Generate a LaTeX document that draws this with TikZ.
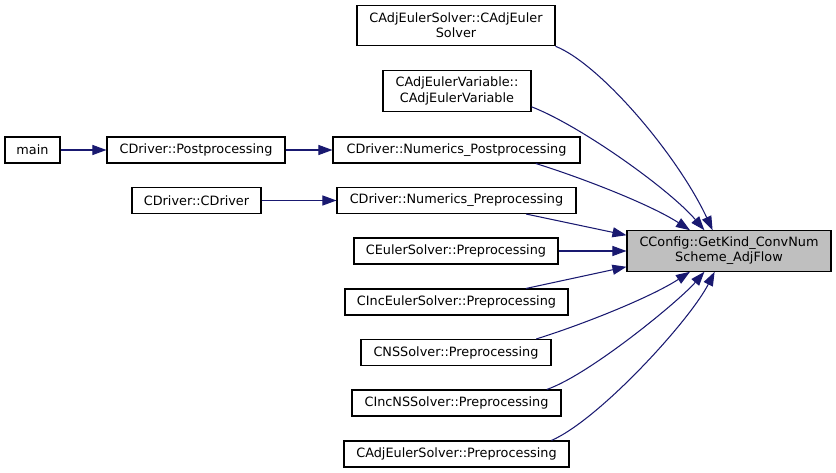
\documentclass[tikz,border=0pt]{standalone}
\usepackage{fontspec}
\setmainfont{DejaVu Sans}
\usetikzlibrary{arrows.meta,calc}
\definecolor{cgEdge}{RGB}{25,25,112}
\definecolor{cgHit}{RGB}{191,191,191}
\newcommand{\HS}{0.52cm}
\newcommand{\HD}{0.81cm}

\begin{document}
\begin{tikzpicture}[
    x=0.02cm, y=-0.02cm,
    fn/.style={draw=black, line width=0.6pt, inner sep=1pt, align=center,
      font=\fontsize{7.3}{8.6}\selectfont, minimum height=\HS},
    hit/.style={fn, fill=cgHit, minimum height=\HD},
    call/.style={draw=cgEdge, line width=0.6pt,
      -{Triangle[length=8pt, width=5.7pt]}},
  ]
  \useasboundingbox (0,0) rectangle (836,473);

  %% ================= callers, left to right =================
  \node[fn, minimum width=1.10cm] (main)     at (32.5,150)  {main};
  \node[fn, minimum width=3.56cm] (post)     at (196,150)   {CDriver::Postprocessing};
  \node[fn, minimum width=2.58cm] (cdriver)  at (196.5,200.5) {CDriver::CDriver};

  %% ---- the column of direct callers ----
  \node[fn, minimum width=3.96cm, minimum height=\HD] (adjsol) at (456,25.5)
    {CAdjEulerSolver::CAdjEuler\\Solver};
  \node[fn, minimum width=2.96cm, minimum height=\HD] (adjvar) at (457,91)
    {CAdjEulerVariable::\\CAdjEulerVariable};
  \node[fn, minimum width=4.94cm] (numpost)  at (456.5,150) {CDriver::Numerics\_Postprocessing};
  \node[fn, minimum width=4.78cm] (numpre)   at (456.5,200.5) {CDriver::Numerics\_Preprocessing};
  \node[fn, minimum width=4.08cm] (euler)    at (456,251)   {CEulerSolver::Preprocessing};
  \node[fn, minimum width=4.46cm] (inceuler) at (456.5,302) {CIncEulerSolver::Preprocessing};
  \node[fn, minimum width=3.80cm] (ns)       at (456,352.5) {CNSSolver::Preprocessing};
  \node[fn, minimum width=4.18cm] (incns)    at (456.5,403) {CIncNSSolver::Preprocessing};
  \node[fn, minimum width=4.50cm] (adjpre)   at (456.5,454) {CAdjEulerSolver::Preprocessing};

  %% ---- the function itself ----
  \node[hit, minimum width=4.08cm] (cfg) at (729,251)
    {CConfig::GetKind\_ConvNum\\Scheme\_AdjFlow};

  %% ================= calls =================
  \draw[call] (main.east) -- (post.west);
  \draw[call] (post.east) -- (numpost.west);
  \draw[call] (cdriver.east) -- (numpre.west);

  \draw[call] (adjsol.south east) .. controls +(45,18) and +(-35,-75)
    .. ($(cfg.north west)!0.42!(cfg.north east)$);
  \draw[call] ($(adjvar.south east)+(0,-5)$) .. controls +(49,19) and +(-35,-41)
    .. ($(cfg.north west)!0.38!(cfg.north east)$);
  \draw[call] ($(numpost.south west)!0.82!(numpost.south east)$) .. controls +(45,14) and +(-40,-26)
    .. ($(cfg.north west)!0.31!(cfg.north east)$);
  \draw[call] ($(numpre.south west)!0.79!(numpre.south east)$)
    -- ($(cfg.north west)+(0,5)$);
  \draw[call] (euler.east) -- (cfg.west);
  \draw[call] ($(inceuler.north west)!0.81!(inceuler.north east)$)
    -- ($(cfg.south west)+(0,-5)$);
  \draw[call] ($(ns.north west)!0.92!(ns.north east)$) .. controls +(45,-14) and +(-40,26)
    .. ($(cfg.south west)!0.31!(cfg.south east)$);
  \draw[call] ($(incns.north west)!0.93!(incns.north east)$) .. controls +(43,-15) and +(-25,29)
    .. ($(cfg.south west)!0.38!(cfg.south east)$);
  \draw[call] ($(adjpre.north west)!0.92!(adjpre.north east)$) .. controls +(48,-21) and +(-25,49)
    .. ($(cfg.south west)!0.43!(cfg.south east)$);

\end{tikzpicture}
\end{document}
